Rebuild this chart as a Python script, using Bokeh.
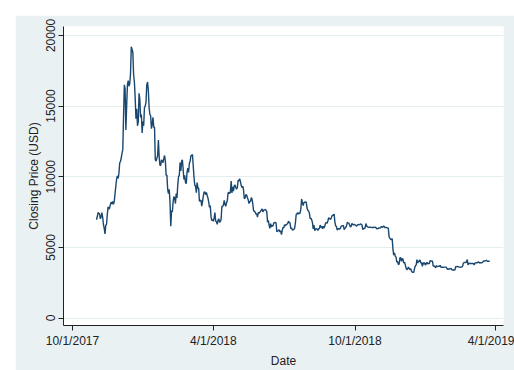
import pandas as pd
from bokeh.plotting import figure
from bokeh.models import ColumnDataSource, FixedTicker, Range1d
from bokeh.embed import file_html
from bokeh.resources import INLINE

start_date = "2017-11-01"

# daily closing prices (USD), Nov-Dec 2017
close_2017 = [
    6950, 7144, 7460, 7407, 7379, 7022, 7144, 7459, 7143, 6618, 6357, 5950, 6559, 6635, 7315,
    7871, 7708, 7790, 8036, 8200, 8071, 8253, 8038, 8253, 8791, 9330, 9818, 10058, 9888, 10233,
    10975, 11074, 11323, 11657, 11916, 14291, 16500, 16200, 13300, 15000, 16500, 16800, 16400,
    16600, 17300, 19200, 19000, 18800, 17200, 16700, 15600, 14100, 14800, 13600, 13900, 15900,
    15500, 14200, 14400, 13100, 13900,
]
# 2018
close_2018 = [
    13600, 14900, 15000, 15300, 16500, 16700, 16100, 14900, 14400, 14300, 13400, 13700, 14200,
    13500, 13500, 11200, 11100, 11300, 11500, 12600, 11400, 10800, 10800, 11200, 11100, 11000,
    11300, 11500, 11100, 10100, 10100,
    9100, 8800, 9100, 8200, 6500, 7600, 7500, 8200, 8600, 8500, 8100, 8800, 8500, 9400, 10000,
    10100, 11000, 10400, 11100, 11200, 10500, 9800, 10100, 9600, 9500, 10300, 10600, 10300,
    10951, 11086, 11489, 11512, 11573, 10780, 9965, 9395, 9337, 8866, 9578, 9205, 9194, 8269,
    8300, 8338, 7916, 8223, 8630, 8913, 8929, 8728, 8879, 8668, 8495, 8209, 7833, 7954, 7165,
    6890, 6973,
    6844, 7083, 7456, 6853, 6811, 6636, 6911, 7023, 6770, 6834, 6968, 7889, 7895, 7986, 8329,
    8058, 7903, 8163, 8294, 8845, 8895, 8803, 8930, 9697, 8845, 9281, 8987, 9348, 9419, 9240,
    9119, 9235, 9744, 9700, 9858, 9654, 9373, 9234, 9325, 9043, 8441, 8504, 8723, 8716, 8510,
    8368, 8094, 8250, 8247, 8513, 8419, 8041, 7557, 7587, 7480, 7355, 7368, 7135, 7472, 7406,
    7494,
    7541, 7643, 7720, 7514, 7633, 7653, 7679, 7624, 7532, 6786, 6906, 6582, 6349, 6675, 6456,
    6550, 6500, 6729, 6741, 6770, 6721, 6111, 6154, 6181, 6253, 6094, 6158, 5904, 6219, 6404,
    6385, 6614, 6530, 6597, 6639, 6674, 6857, 6773, 6741, 6329, 6394, 6228, 6238, 6276, 6359,
    6742, 7321, 7370, 7466, 7355, 7419, 7418, 7711, 8424, 8182, 7951, 8166, 8193, 8218, 8180,
    7780,
    7624, 7567, 7434, 7032, 7068, 6951, 6753, 6305, 6571, 6184, 6295, 6322, 6297, 6200, 6308,
    6335, 6580, 6423, 6506, 6308, 6488, 6376, 6534, 6719, 6763, 6707, 6884, 7097, 7047, 6978,
    7037,
    7193, 7272, 7260, 7361, 6792, 6529, 6467, 6225, 6301, 6330, 6296, 6332, 6502, 6513, 6542,
    6531, 6253, 6356, 6413, 6518, 6761, 6735, 6715, 6585, 6446, 6497, 6689, 6633, 6592, 6626,
    6589, 6557, 6496, 6578, 6622, 6594, 6612, 6652, 6642, 6585, 6257, 6330, 6330, 6371, 6687,
    6491, 6480, 6411, 6417, 6419, 6418, 6414, 6399, 6420, 6405, 6412, 6420, 6404, 6312, 6334,
    6332,
    6388, 6355, 6387, 6486, 6418, 6450, 6527, 6431, 6391, 6411, 6398, 6375, 6344, 5738, 5649,
    5575, 5554, 5620, 4871, 4451, 4602, 4366, 4309, 3959, 4009, 3779, 3820, 4257, 4278, 4017,
    4214, 4139, 3894, 3956, 3754, 3509, 3419, 3477, 3614, 3503, 3424, 3487, 3313, 3242, 3236,
    3252, 3545, 3696, 3745, 4134, 3896, 4014, 3999, 4111, 3880, 3919, 3654, 3923, 3821, 3913,
    3742,
]
# Jan - Mar 24, 2019
close_2019 = [
    3843, 3943, 3836, 3857, 3845, 4076, 4026, 4030, 4035, 3678, 3687, 3661, 3552, 3706, 3630,
    3655, 3678, 3657, 3728, 3601, 3576, 3604, 3585, 3600, 3599, 3602, 3583, 3476, 3438, 3471,
    3464,
    3487, 3522, 3413, 3401, 3411, 3395, 3386, 3630, 3632, 3655, 3617, 3620, 3603, 3590, 3602,
    3618, 3668, 3899, 3915, 3947, 3911, 3981, 4139, 3755, 3880, 3856, 3861, 3854,
    3859, 3864, 3847, 3761, 3896, 3903, 3911, 3901, 3963, 3948, 3894, 3918, 3904, 3909, 3945,
    4049, 4026, 4033, 4067, 4085, 4009, 4015, 4024, 4019,
]

y_ticks = [0, 5000, 10000, 15000, 20000]
x_tick_dates = ["2017-10-01", "2018-04-01", "2018-10-01", "2019-04-01"]
x_tick_labels = ["10/1/2017", "4/1/2018", "10/1/2018", "4/1/2019"]

closes = close_2017 + close_2018 + close_2019
dates = pd.date_range(start_date, periods=len(closes), freq="D")
src = ColumnDataSource(dict(date=dates, close=closes))


def ms(s):
    return float(pd.Timestamp(s).value // 10**6)


BG = "#EAF1F3"
FONT = "Liberation Sans"
TXT = "#222222"

p = figure(
    width=499, height=355, x_axis_type="datetime",
    output_backend="svg", toolbar_location=None,
    x_range=Range1d(ms("2017-09-19 10:00"), ms("2019-04-10 19:00")),
    y_range=Range1d(-530, 20630),
    min_border_left=48, min_border_right=11, min_border_top=11, min_border_bottom=41,
    border_fill_color=BG, background_fill_color="white", outline_line_color=None,
)
p.margin = (15, 0, 0, 15)

p.line(x="date", y="close", source=src, line_color="#1a476f", line_width=1.4)

x_ms = [ms(d) for d in x_tick_dates]
p.xaxis.ticker = FixedTicker(ticks=x_ms)
p.xaxis.major_label_overrides = {t: l for t, l in zip(x_ms, x_tick_labels)}
p.yaxis.ticker = FixedTicker(ticks=y_ticks)
p.yaxis.major_label_orientation = "vertical"

p.xaxis.axis_label = "Date"
p.yaxis.axis_label = "Closing Price (USD)"

for ax in (p.xaxis[0], p.yaxis[0]):
    ax.axis_line_color = TXT
    ax.axis_line_width = 1
    ax.major_tick_line_color = TXT
    ax.major_tick_out = 5
    ax.major_tick_in = 0
    ax.minor_tick_line_color = None
    ax.major_label_text_font = FONT
    ax.major_label_text_font_size = "12px"
    ax.major_label_text_color = TXT
    ax.axis_label_text_font = FONT
    ax.axis_label_text_font_size = "12px"
    ax.axis_label_text_font_style = "normal"
    ax.axis_label_text_color = TXT
    ax.major_label_standoff = 3
    ax.axis_label_standoff = 3

p.xgrid.grid_line_color = None
p.ygrid.grid_line_color = "#E4EDF0"
p.ygrid.grid_line_width = 1

open("out.html", "w").write(file_html(p, INLINE))
